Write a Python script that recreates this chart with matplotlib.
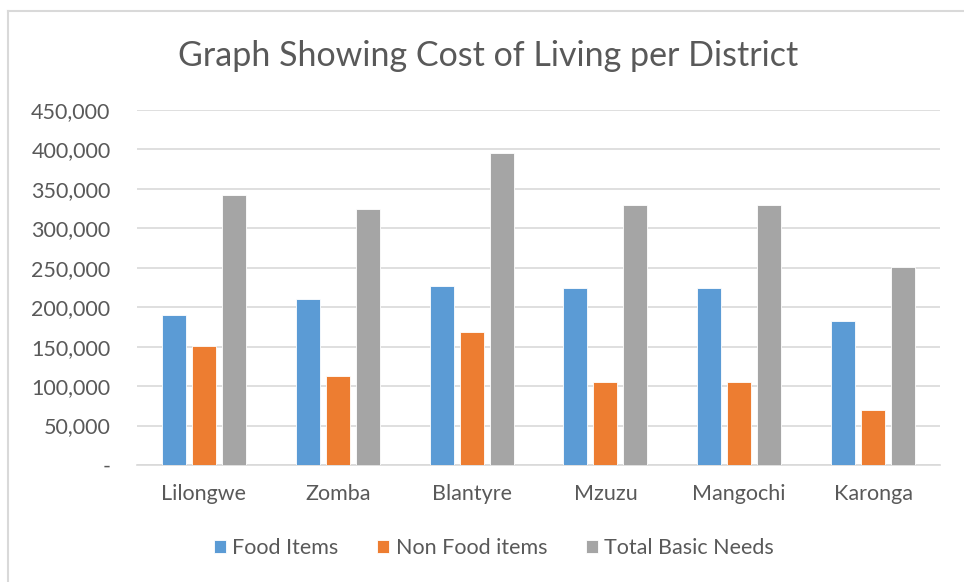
import matplotlib
matplotlib.use("Agg")
import matplotlib.pyplot as plt
from matplotlib.lines import Line2D
from matplotlib.ticker import FuncFormatter
import numpy as np

districts = ["Lilongwe", "Zomba", "Blantyre", "Mzuzu", "Mangochi", "Karonga"]
food_items = [190000, 211000, 227000, 224000, 224000, 182000]
non_food_items = [151000, 113000, 169000, 105000, 105000, 70000]
total_basic_needs = [342000, 324000, 396000, 329000, 329000, 251000]
series_names = ["Food Items", "Non Food items", "Total Basic Needs"]
colors = ["#5B9BD5", "#ED7D31", "#A5A5A5"]

W, H = 964, 582
plt.rcParams['font.family'] = ['Lato', 'DejaVu Sans']
fig = plt.figure(figsize=(W / 100, H / 100), dpi=100)

ax = fig.add_axes([137 / W, 1 - 465 / H, (940 - 137) / W, (465 - 110) / H])

x = np.arange(len(districts))
bw = 0.18
off = 0.224
for i, (vals, c) in enumerate(zip([food_items, non_food_items, total_basic_needs], colors)):
    ax.bar(x + (i - 1) * off, vals, width=bw, color=c, edgecolor="white", linewidth=0.6, zorder=3,
           label=series_names[i])

ax.set_xlim(-0.5, len(districts) - 0.5)
ax.set_ylim(0, 450000)
ax.set_yticks(np.arange(0, 450001, 50000))
ax.yaxis.set_major_formatter(FuncFormatter(lambda v, p: "-" if v == 0 else f"{int(v):,}"))
ax.grid(axis="y", color="#D9D9D9", linewidth=1.2, zorder=0)
for s in ["top", "right", "left"]:
    ax.spines[s].set_visible(False)
ax.spines["bottom"].set_color("#D9D9D9")
ax.spines["bottom"].set_linewidth(1.2)
ax.tick_params(axis="both", length=0, colors="#595959", labelsize=15.5)
ax.tick_params(axis="y", pad=19)
ax.tick_params(axis="x", pad=14)
ax.set_xticks(x)
ax.set_xticklabels(districts)

fig.text(488 / W, 1 - 56 / H, "Graph Showing Cost of Living per District", ha="center", va="center",
         fontsize=24.5, color="#595959")

leg = fig.legend(loc="center", bbox_to_anchor=(494 / W, 1 - 548 / H), ncol=3, frameon=False,
                 fontsize=15.5, handlelength=0.55, handleheight=0.55, handletextpad=0.3, columnspacing=1.8,
                 labelcolor="#595959")

# chart border
fig.add_artist(Line2D([8 / W, 8 / W], [0, 1 - 11 / H], color="#D9D9D9", linewidth=1.5, transform=fig.transFigure))
fig.add_artist(Line2D([8 / W, 1], [1 - 11 / H, 1 - 11 / H], color="#D9D9D9", linewidth=1.5, transform=fig.transFigure))

fig.savefig("out.png", dpi=100)
